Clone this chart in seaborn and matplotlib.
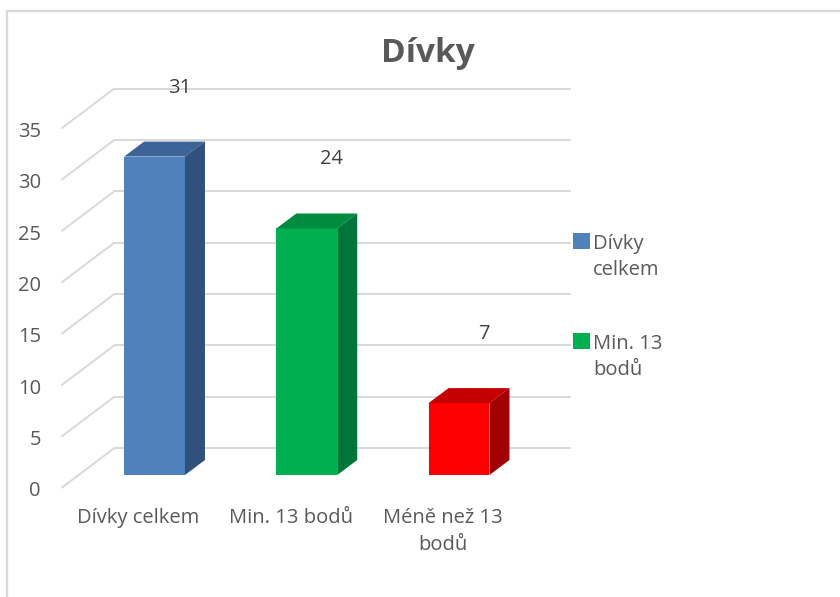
import numpy as np
import pandas as pd
import matplotlib
matplotlib.use('Agg')
import matplotlib.pyplot as plt
import matplotlib.transforms as mtrans
from matplotlib.patches import Polygon, Rectangle
from matplotlib.lines import Line2D
import seaborn as sns

# data
categories = ['Dívky celkem', 'Min. 13 bodů', 'Méně než 13 bodů']
tick_labels = ['Dívky celkem', 'Min. 13 bodů', 'Méně než 13\nbodů']
values = [31, 24, 7]
legend_labels = ['Dívky\ncelkem', 'Min. 13\nbodů']
y_ticks = list(range(0, 36, 5))

front_colors = ['#4f81bd', '#00b050', '#ff0000']
top_colors = ['#3c6497', '#008c3f', '#c40000']
side_colors = ['#30517c', '#00753a', '#a00000']
grid_color = '#d9d9d9'
text_color = '#595959'
fs = 14.5

sns.set_style('white')
plt.rcParams['font.family'] = ['Open Sans', 'DejaVu Sans']

W, H = 840, 597
fig = plt.figure(figsize=(W / 100, H / 100), dpi=100)
ax = fig.add_axes([78.4 / W, 122 / H, 456.75 / W, 359.5 / H])
ax.set_facecolor('none')

df = pd.DataFrame({'cat': categories, 'val': values})
sns.barplot(data=df, x='cat', y='val', hue='cat', palette=front_colors,
            saturation=1, width=0.4, legend=False, errorbar=None, ax=ax, zorder=3)
ax.set_xlim(-0.5, 2.5)
ax.set_ylim(0, 35)
ax.set_xlabel('')
ax.set_ylabel('')
for s in ax.spines.values():
    s.set_visible(False)

px = fig.dpi / 100


def px_to_data(dx, dy):
    o = ax.transData.transform((0, 0))
    d = ax.transData.inverted().transform(o + np.array([dx, dy]) * px)
    return d[0], d[1]


# 3D depth of the bars
ddx, ddy = px_to_data(20, 15)
for i, p in enumerate(ax.patches[:len(values)]):
    x0 = p.get_x()
    x1 = x0 + p.get_width()
    h = p.get_height()
    p.set_edgecolor('none')
    top = Polygon([(x0, h), (x1, h), (x1 + ddx, h + ddy), (x0 + ddx, h + ddy)],
                  closed=True, fc=top_colors[i], ec='none', zorder=3)
    side = Polygon([(x1, 0), (x1, h), (x1 + ddx, h + ddy), (x1 + ddx, ddy)],
                   closed=True, fc=side_colors[i], ec='none', zorder=3)
    ax.add_patch(top)
    ax.add_patch(side)

# perspective gridlines: front plane and back wall
fx, fy = px_to_data(-17, -13)
bx, by = px_to_data(36, 27)
for v in y_ticks:
    ax.plot([-0.5 + fx, -0.5 + bx], [v + fy, v + by], color=grid_color,
            lw=1.4, clip_on=False, zorder=0, solid_capstyle='butt')
    ax.plot([-0.5 + bx, 2.5 + bx], [v + by, v + by], color=grid_color,
            lw=1.4, clip_on=False, zorder=0, solid_capstyle='butt')

# ticks
ax.set_yticks(y_ticks)
ax.set_yticklabels([str(v) for v in y_ticks])
ax.set_xticks(range(len(values)))
ax.set_xticklabels(tick_labels, linespacing=1.42)
ax.tick_params(axis='both', length=0, labelsize=fs, labelcolor=text_color)
ax.tick_params(axis='y', pad=27)
ax.tick_params(axis='x', pad=24)
ytrans = mtrans.ScaledTranslation(0, -14 / 100, fig.dpi_scale_trans)
for lab in ax.get_yticklabels():
    lab.set_transform(lab.get_transform() + ytrans)
xtrans = mtrans.ScaledTranslation(-16 / 100, 0, fig.dpi_scale_trans)
for lab in ax.get_xticklabels():
    lab.set_transform(lab.get_transform() + xtrans)

# value labels
for i, v in enumerate(values):
    ax.annotate(str(v), (i, v), xytext=(25 * 0.72, 69 * 0.72), textcoords='offset points',
                ha='center', va='center', fontsize=fs, color='#404040', zorder=5)

# title
fig.text(428 / W, 1 - 53 / H, 'Dívky', ha='center', va='center',
         fontsize=24, fontweight='bold', color=text_color)

# legend
for i, lab in enumerate(legend_labels):
    ytop = 233 + i * 100
    fig.add_artist(Rectangle((573 / W, 1 - (ytop + 16) / H), 17 / W, 16 / H,
                             transform=fig.transFigure, fc=front_colors[i], ec='none'))
    fig.text(593 / W, 1 - (ytop + 1) / H, lab, ha='left', va='top',
             fontsize=fs, color=text_color, linespacing=1.4)

# outer frame
fig.add_artist(Line2D([6.5 / W, 6.5 / W], [0, 1 - 11 / H], transform=fig.transFigure,
                      color=grid_color, lw=1.6))
fig.add_artist(Line2D([6.5 / W, 1], [1 - 11 / H, 1 - 11 / H], transform=fig.transFigure,
                      color=grid_color, lw=1.6))

fig.savefig('out.png', dpi=100)
